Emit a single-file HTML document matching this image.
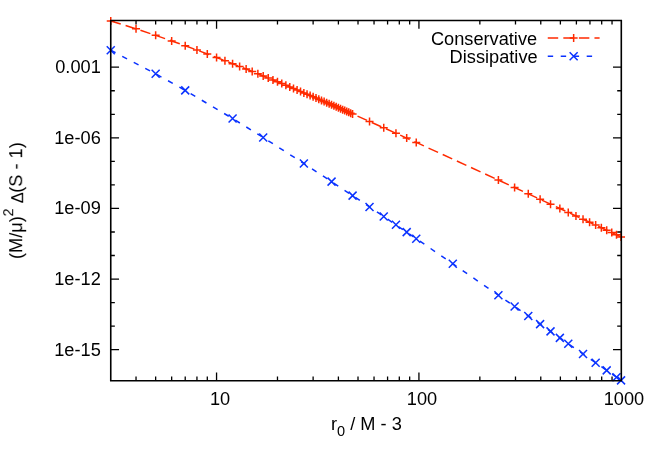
<!DOCTYPE html>
<html><head><meta charset="utf-8"><title>plot</title>
<style>
html,body{margin:0;padding:0;background:#fff;}
body{width:654px;height:457px;position:relative;overflow:hidden;font-family:"Liberation Sans",sans-serif;font-size:17.5px;color:#000;}
</style></head><body>
<svg width="654" height="457" viewBox="0 0 654 457" style="position:absolute;left:0;top:0">
<path d="M136.03 380.7v-4.1M136.03 20.5v4.1M155.65 380.7v-4.1M155.65 20.5v4.1M171.67 380.7v-4.1M171.67 20.5v4.1M185.22 380.7v-4.1M185.22 20.5v4.1M196.95 380.7v-4.1M196.95 20.5v4.1M207.30 380.7v-4.1M207.30 20.5v4.1M216.56 380.7v-8.3M216.56 20.5v8.3M277.48 380.7v-4.1M277.48 20.5v4.1M313.12 380.7v-4.1M313.12 20.5v4.1M338.40 380.7v-4.1M338.40 20.5v4.1M358.01 380.7v-4.1M358.01 20.5v4.1M374.04 380.7v-4.1M374.04 20.5v4.1M387.58 380.7v-4.1M387.58 20.5v4.1M399.32 380.7v-4.1M399.32 20.5v4.1M409.67 380.7v-4.1M409.67 20.5v4.1M418.93 380.7v-8.3M418.93 20.5v8.3M479.85 380.7v-4.1M479.85 20.5v4.1M515.49 380.7v-4.1M515.49 20.5v4.1M540.77 380.7v-4.1M540.77 20.5v4.1M560.38 380.7v-4.1M560.38 20.5v4.1M576.40 380.7v-4.1M576.40 20.5v4.1M589.95 380.7v-4.1M589.95 20.5v4.1M601.69 380.7v-4.1M601.69 20.5v4.1M612.04 380.7v-4.1M612.04 20.5v4.1M110.75 349.68h8.3M621.3 349.68h-8.3M110.75 326.14h4.1M621.3 326.14h-4.1M110.75 302.60h4.1M621.3 302.60h-4.1M110.75 279.06h8.3M621.3 279.06h-8.3M110.75 255.52h4.1M621.3 255.52h-4.1M110.75 231.98h4.1M621.3 231.98h-4.1M110.75 208.44h8.3M621.3 208.44h-8.3M110.75 184.90h4.1M621.3 184.90h-4.1M110.75 161.36h4.1M621.3 161.36h-4.1M110.75 137.82h8.3M621.3 137.82h-8.3M110.75 114.28h4.1M621.3 114.28h-4.1M110.75 90.74h4.1M621.3 90.74h-4.1M110.75 67.20h8.3M621.3 67.20h-8.3" stroke="#000" stroke-width="1.3" fill="none"/>
<polyline points="110.75,20.91 136.03,28.83 155.65,35.35 171.67,40.92 185.22,45.77 196.95,50.07 207.30,53.95 216.56,57.47 224.94,60.70 232.59,63.68 239.62,66.46 246.14,69.05 252.20,71.48 257.87,73.77 263.20,75.94 268.22,78.00 272.97,79.95 277.48,81.81 281.77,83.59 285.86,85.30 289.77,86.93 293.51,88.51 297.09,90.02 300.54,91.48 303.86,92.88 307.05,94.24 310.14,95.56 313.12,96.83 316.00,98.07 318.79,99.27 321.49,100.43 324.12,101.56 326.67,102.66 329.14,103.73 331.55,104.78 333.89,105.80 336.18,106.79 338.40,107.76 340.57,108.71 342.69,109.63 344.76,110.54 346.78,111.42 348.75,112.29 350.68,113.14 352.58,113.97 369.53,121.46 383.74,127.79 395.96,133.27 406.69,138.11 416.25,142.43 498.40,180.04 514.60,187.52 528.28,193.84 540.11,199.32 550.53,204.15 559.85,208.47 568.28,212.38 575.96,215.95 583.03,219.23 589.58,222.27 595.66,225.10 601.36,227.75 606.71,230.23 611.75,232.58 616.51,234.79 621.04,236.90" fill="none" stroke="#ff2a00" stroke-width="1.5" stroke-dasharray="10.45 5.12"/>
<polyline points="110.75,50.27 155.65,73.80 185.22,90.40 232.59,118.50 263.20,137.48 303.86,163.49 331.55,181.64 352.58,195.61 369.53,206.97 383.74,216.56 395.96,224.84 406.69,232.14 416.25,238.67 452.79,263.73 498.40,295.23 514.60,306.45 528.28,315.93 540.11,324.14 550.53,331.38 559.85,337.85 568.28,343.70 583.03,353.95 595.66,362.73 606.71,370.40 616.51,377.21 621.04,380.36" fill="none" stroke="#0a32ff" stroke-width="1.5" stroke-dasharray="5.4 7.585"/>
<path d="M106.75 20.91H114.75M110.75 16.91V24.91M132.03 28.83H140.03M136.03 24.83V32.83M151.65 35.35H159.65M155.65 31.35V39.35M167.67 40.92H175.67M171.67 36.92V44.92M181.22 45.77H189.22M185.22 41.77V49.77M192.95 50.07H200.95M196.95 46.07V54.07M203.30 53.95H211.30M207.30 49.95V57.95M212.56 57.47H220.56M216.56 53.47V61.47M220.94 60.70H228.94M224.94 56.70V64.70M228.59 63.68H236.59M232.59 59.68V67.68M235.62 66.46H243.62M239.62 62.46V70.46M242.14 69.05H250.14M246.14 65.05V73.05M248.20 71.48H256.20M252.20 67.48V75.48M253.87 73.77H261.87M257.87 69.77V77.77M259.20 75.94H267.20M263.20 71.94V79.94M264.22 78.00H272.22M268.22 74.00V82.00M268.97 79.95H276.97M272.97 75.95V83.95M273.48 81.81H281.48M277.48 77.81V85.81M277.77 83.59H285.77M281.77 79.59V87.59M281.86 85.30H289.86M285.86 81.30V89.30M285.77 86.93H293.77M289.77 82.93V90.93M289.51 88.51H297.51M293.51 84.51V92.51M293.09 90.02H301.09M297.09 86.02V94.02M296.54 91.48H304.54M300.54 87.48V95.48M299.86 92.88H307.86M303.86 88.88V96.88M303.05 94.24H311.05M307.05 90.24V98.24M306.14 95.56H314.14M310.14 91.56V99.56M309.12 96.83H317.12M313.12 92.83V100.83M312.00 98.07H320.00M316.00 94.07V102.07M314.79 99.27H322.79M318.79 95.27V103.27M317.49 100.43H325.49M321.49 96.43V104.43M320.12 101.56H328.12M324.12 97.56V105.56M322.67 102.66H330.67M326.67 98.66V106.66M325.14 103.73H333.14M329.14 99.73V107.73M327.55 104.78H335.55M331.55 100.78V108.78M329.89 105.80H337.89M333.89 101.80V109.80M332.18 106.79H340.18M336.18 102.79V110.79M334.40 107.76H342.40M338.40 103.76V111.76M336.57 108.71H344.57M340.57 104.71V112.71M338.69 109.63H346.69M342.69 105.63V113.63M340.76 110.54H348.76M344.76 106.54V114.54M342.78 111.42H350.78M346.78 107.42V115.42M344.75 112.29H352.75M348.75 108.29V116.29M346.68 113.14H354.68M350.68 109.14V117.14M348.58 113.97H356.58M352.58 109.97V117.97M365.53 121.46H373.53M369.53 117.46V125.46M379.74 127.79H387.74M383.74 123.79V131.79M391.96 133.27H399.96M395.96 129.27V137.27M402.69 138.11H410.69M406.69 134.11V142.11M412.25 142.43H420.25M416.25 138.43V146.43M494.40 180.04H502.40M498.40 176.04V184.04M510.60 187.52H518.60M514.60 183.52V191.52M524.28 193.84H532.28M528.28 189.84V197.84M536.11 199.32H544.11M540.11 195.32V203.32M546.53 204.15H554.53M550.53 200.15V208.15M555.85 208.47H563.85M559.85 204.47V212.47M564.28 212.38H572.28M568.28 208.38V216.38M571.96 215.95H579.96M575.96 211.95V219.95M579.03 219.23H587.03M583.03 215.23V223.23M585.58 222.27H593.58M589.58 218.27V226.27M591.66 225.10H599.66M595.66 221.10V229.10M597.36 227.75H605.36M601.36 223.75V231.75M602.71 230.23H610.71M606.71 226.23V234.23M607.75 232.58H615.75M611.75 228.58V236.58M612.51 234.79H620.51M616.51 230.79V238.79M617.04 236.90H625.04M621.04 232.90V240.90" stroke="#ff2a00" stroke-width="1.5" fill="none"/>
<path d="M106.75 46.27L114.75 54.27M106.75 54.27L114.75 46.27M151.65 69.80L159.65 77.80M151.65 77.80L159.65 69.80M181.22 86.40L189.22 94.40M181.22 94.40L189.22 86.40M228.59 114.50L236.59 122.50M228.59 122.50L236.59 114.50M259.20 133.48L267.20 141.48M259.20 141.48L267.20 133.48M299.86 159.49L307.86 167.49M299.86 167.49L307.86 159.49M327.55 177.64L335.55 185.64M327.55 185.64L335.55 177.64M348.58 191.61L356.58 199.61M348.58 199.61L356.58 191.61M365.53 202.97L373.53 210.97M365.53 210.97L373.53 202.97M379.74 212.56L387.74 220.56M379.74 220.56L387.74 212.56M391.96 220.84L399.96 228.84M391.96 228.84L399.96 220.84M402.69 228.14L410.69 236.14M402.69 236.14L410.69 228.14M412.25 234.67L420.25 242.67M412.25 242.67L420.25 234.67M448.79 259.73L456.79 267.73M448.79 267.73L456.79 259.73M494.40 291.23L502.40 299.23M494.40 299.23L502.40 291.23M510.60 302.45L518.60 310.45M510.60 310.45L518.60 302.45M524.28 311.93L532.28 319.93M524.28 319.93L532.28 311.93M536.11 320.14L544.11 328.14M536.11 328.14L544.11 320.14M546.53 327.38L554.53 335.38M546.53 335.38L554.53 327.38M555.85 333.85L563.85 341.85M555.85 341.85L563.85 333.85M564.28 339.70L572.28 347.70M564.28 347.70L572.28 339.70M579.03 349.95L587.03 357.95M579.03 357.95L587.03 349.95M591.66 358.73L599.66 366.73M591.66 366.73L599.66 358.73M602.71 366.40L610.71 374.40M602.71 374.40L610.71 366.40M612.51 373.21L620.51 381.21M612.51 381.21L620.51 373.21M617.04 376.36L625.04 384.36M617.04 384.36L625.04 376.36" stroke="#0a32ff" stroke-width="1.5" fill="none"/>
<path d="M547.75 38.05H599.6" stroke="#ff2a00" stroke-width="1.5" stroke-dasharray="10.45 5.12" fill="none"/>
<path d="M569.65 38.05H577.65M573.65 34.05V42.05" stroke="#ff2a00" stroke-width="1.5" fill="none"/>
<path d="M547.75 56.3H593" stroke="#0a32ff" stroke-width="1.5" stroke-dasharray="5.4 7.585" fill="none"/>
<path d="M569.65 52.30L577.65 60.30M569.65 60.30L577.65 52.30" stroke="#0a32ff" stroke-width="1.5" fill="none"/>
<path d="M110.75 20.5H621.3V380.7H110.75Z" stroke="#000" stroke-width="1.6" fill="none" stroke-linejoin="miter"/>
</svg>
<div style="position:absolute;top:59.19px;line-height:17.5px;white-space:nowrap;will-change:transform;right:553.60px;transform-origin:100% 0;transform:scaleX(1.04);">0.001</div>
<div style="position:absolute;top:129.81px;line-height:17.5px;white-space:nowrap;will-change:transform;right:553.60px;transform-origin:100% 0;transform:scaleX(1.04);">1e-06</div>
<div style="position:absolute;top:200.43px;line-height:17.5px;white-space:nowrap;will-change:transform;right:553.60px;transform-origin:100% 0;transform:scaleX(1.04);">1e-09</div>
<div style="position:absolute;top:271.05px;line-height:17.5px;white-space:nowrap;will-change:transform;right:553.60px;transform-origin:100% 0;transform:scaleX(1.04);">1e-12</div>
<div style="position:absolute;top:341.67px;line-height:17.5px;white-space:nowrap;will-change:transform;right:553.60px;transform-origin:100% 0;transform:scaleX(1.04);">1e-15</div>
<div style="position:absolute;top:391.39px;line-height:17.5px;white-space:nowrap;will-change:transform;left:119.66px;width:200px;text-align:center;transform-origin:50% 0;transform:scaleX(1.04);">10</div>
<div style="position:absolute;top:391.39px;line-height:17.5px;white-space:nowrap;will-change:transform;left:322.03px;width:200px;text-align:center;transform-origin:50% 0;transform:scaleX(1.04);">100</div>
<div style="position:absolute;top:391.39px;line-height:17.5px;white-space:nowrap;will-change:transform;left:524.40px;width:200px;text-align:center;transform-origin:50% 0;transform:scaleX(1.04);">1000</div>
<div style="position:absolute;top:30.59px;line-height:17.5px;white-space:nowrap;will-change:transform;right:116.80px;transform-origin:100% 0;transform:scaleX(1.04);">Conservative</div>
<div style="position:absolute;top:48.69px;line-height:17.5px;white-space:nowrap;will-change:transform;right:116.80px;transform-origin:100% 0;transform:scaleX(1.04);">Dissipative</div>
<div style="position:absolute;top:416.29px;line-height:17.5px;white-space:nowrap;will-change:transform;left:330.80px;transform-origin:0 0;transform:scaleX(1.04);">r<span style="font-size:14px;position:relative;top:6.0px">0</span> / M - 3</div>
<div style="position:absolute;left:23.0px;top:258.5px;line-height:17.5px;white-space:nowrap;will-change:transform;transform-origin:0 0;transform:rotate(-90deg) translateY(-14.81px) scaleX(1.04)">(M/&mu;)<span style="font-size:14px;position:relative;top:-8.7px;margin-left:-0.4px">2</span> <span style="margin-left:0.1px;margin-right:-0.45px;font-size:15.8px;position:relative;top:1px">&Delta;</span>(S - 1)</div>
</body></html>
